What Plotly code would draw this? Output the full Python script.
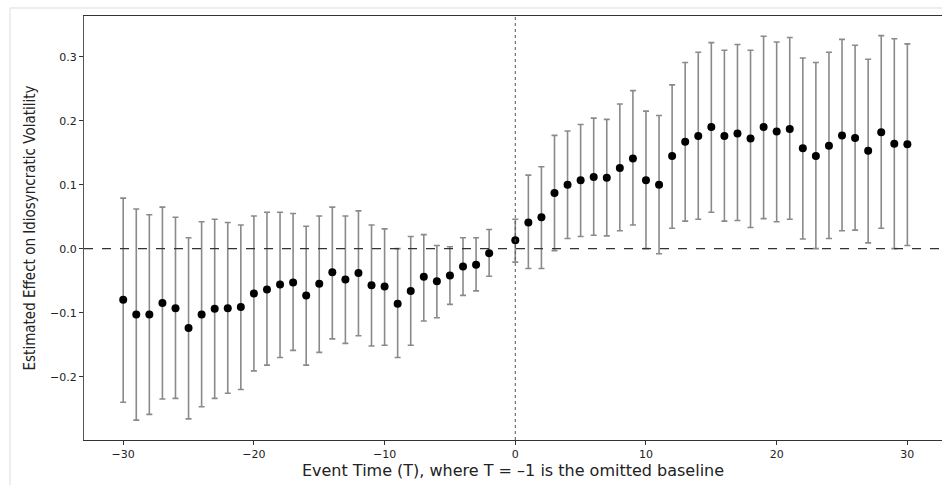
import plotly.graph_objects as go

event_time = [-30, -29, -28, -27, -26, -25, -24, -23, -22, -21, -20, -19, -18, -17, -16,
              -15, -14, -13, -12, -11, -10, -9, -8, -7, -6, -5, -4, -3, -2,
              0, 1, 2, 3, 4, 5, 6, 7, 8, 9, 10, 11, 12, 13, 14, 15, 16, 17, 18, 19, 20,
              21, 22, 23, 24, 25, 26, 27, 28, 29, 30]
estimate = [-0.080, -0.103, -0.103, -0.085, -0.093, -0.124, -0.103, -0.094, -0.093, -0.091,
            -0.070, -0.064, -0.056, -0.053, -0.073,
            -0.055, -0.037, -0.048, -0.038, -0.057, -0.059, -0.086, -0.066, -0.044, -0.051,
            -0.042, -0.028, -0.025, -0.007,
            0.013, 0.041, 0.049, 0.087, 0.100, 0.107, 0.112, 0.111, 0.126, 0.141, 0.107,
            0.100, 0.145, 0.167, 0.176, 0.190, 0.176, 0.180, 0.172, 0.190, 0.183,
            0.187, 0.157, 0.145, 0.161, 0.177, 0.173, 0.153, 0.182, 0.164, 0.163]
ci_upper = [0.079, 0.062, 0.053, 0.065, 0.049, 0.017, 0.042, 0.046, 0.041, 0.037,
            0.051, 0.057, 0.057, 0.055, 0.035,
            0.051, 0.065, 0.051, 0.059, 0.037, 0.031, 0.000, 0.019, 0.022, 0.005,
            0.003, 0.017, 0.017, 0.030,
            0.046, 0.115, 0.128, 0.177, 0.184, 0.194, 0.204, 0.202, 0.226, 0.247, 0.215,
            0.208, 0.256, 0.291, 0.307, 0.322, 0.310, 0.319, 0.310, 0.332, 0.323,
            0.330, 0.298, 0.291, 0.307, 0.327, 0.318, 0.296, 0.333, 0.328, 0.320]
ci_lower = [-0.240, -0.268, -0.259, -0.235, -0.234, -0.266, -0.247, -0.234, -0.226, -0.220,
            -0.191, -0.182, -0.170, -0.159, -0.182,
            -0.162, -0.141, -0.148, -0.136, -0.152, -0.151, -0.170, -0.151, -0.113, -0.108,
            -0.087, -0.073, -0.066, -0.043,
            -0.021, -0.031, -0.031, -0.003, 0.016, 0.019, 0.021, 0.020, 0.028, 0.037, 0.000,
            -0.008, 0.032, 0.043, 0.046, 0.057, 0.043, 0.044, 0.033, 0.047, 0.042,
            0.046, 0.015, 0.000, 0.016, 0.028, 0.029, 0.009, 0.032, 0.000, 0.005]

x_ticks = [-30, -20, -10, 0, 10, 20, 30]
x_tick_text = ["\u221230", "\u221220", "\u221210", "0", "10", "20", "30"]
y_ticks = [-0.2, -0.1, 0.0, 0.1, 0.2, 0.3]
y_tick_text = ["\u22120.2", "\u22120.1", "0.0", "0.1", "0.2", "0.3"]

err_plus = [u - e for u, e in zip(ci_upper, estimate)]
err_minus = [e - l for e, l in zip(estimate, ci_lower)]

fig = go.Figure()
fig.add_trace(go.Scatter(
    x=event_time, y=estimate, mode="markers",
    marker=dict(color="black", size=8),
    error_y=dict(type="data", symmetric=False, array=err_plus, arrayminus=err_minus,
                 color="#8a8a8a", thickness=1.6, width=3),
    showlegend=False,
))

fig.add_hline(y=0, line=dict(color="#333333", width=1.1, dash="dash"))
fig.add_vline(x=0, line=dict(color="#555555", width=1, dash="dot"))

# light outer frame (top and left) seen in the reference
fig.add_shape(type="line", xref="paper", yref="paper",
              x0=-74/858, x1=1.0, y0=1 + 8/424, y1=1 + 8/424,
              line=dict(color="#dddddd", width=1))
fig.add_shape(type="line", xref="paper", yref="paper",
              x0=-74/858, x1=-74/858, y0=-45/424, y1=1 + 8/424,
              line=dict(color="#dddddd", width=1))

fig.update_layout(
    width=942, height=485,
    margin=dict(l=84, r=0, t=16, b=45),
    paper_bgcolor="white", plot_bgcolor="white",
    font=dict(family="DejaVu Sans, sans-serif", color="#222222", size=11),
    xaxis=dict(
        range=[-33, 32.65],
        tickvals=x_ticks, ticktext=x_tick_text,
        showgrid=False, zeroline=False,
        showline=True, linecolor="#333333", linewidth=1.2, mirror=True,
        ticks="outside", ticklen=4, tickcolor="#333333",
        tickfont=dict(size=11, family="DejaVu Sans"),
        title=dict(text="Event Time (T), where T = \u20131 is the omitted baseline",
                   font=dict(size=16, family="DejaVu Sans"), standoff=1),
    ),
    yaxis=dict(
        range=[-0.299, 0.3636],
        tickvals=y_ticks, ticktext=y_tick_text,
        showgrid=False, zeroline=False,
        showline=True, linecolor="#555555", linewidth=1.2,
        ticks="outside", ticklen=4, tickcolor="#333333",
        tickfont=dict(size=11, family="DejaVu Sans"),
        title=dict(text="Estimated Effect on Idiosyncratic Volatility",
                   font=dict(size=15, family="DejaVu Sans Condensed, DejaVu Sans"),
                   standoff=10),
    ),
)

fig.write_html("out.html")
